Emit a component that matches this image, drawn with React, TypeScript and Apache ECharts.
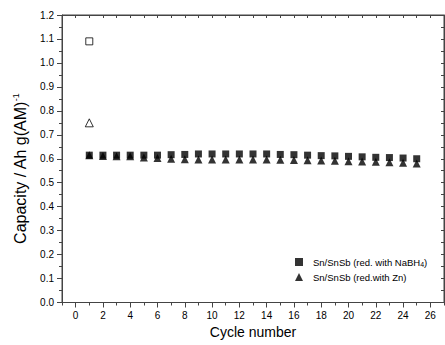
import React, { useEffect, useRef } from "react";
import * as echarts from "echarts";

const cycles = [1, 2, 3, 4, 5, 6, 7, 8, 9, 10, 11, 12, 13, 14, 15, 16, 17, 18, 19, 20, 21, 22, 23, 24, 25];
const nabh4 = [0.615, 0.615, 0.615, 0.615, 0.615, 0.615, 0.617, 0.618, 0.62, 0.62, 0.62, 0.62, 0.62, 0.62, 0.618, 0.617, 0.615, 0.613, 0.612, 0.61, 0.608, 0.606, 0.605, 0.603, 0.6];
const zn = [0.615, 0.612, 0.61, 0.61, 0.605, 0.603, 0.6, 0.598, 0.597, 0.597, 0.597, 0.597, 0.597, 0.597, 0.596, 0.595, 0.594, 0.593, 0.592, 0.59, 0.589, 0.587, 0.585, 0.583, 0.58];
const firstCycle = [1];
const nabh4First = [1.09];
const znFirst = [0.75];
const xMajorTicks = [0, 2, 4, 6, 8, 10, 12, 14, 16, 18, 20, 22, 24, 26];

const NAME_A = "Sn/SnSb (red. with NaBH4)";
const NAME_B = "Sn/SnSb (red.with Zn)";

const FONT = "Liberation Sans, Arial, sans-serif";
const AXIS_COLOR = "#444";

export default function App() {
  const ref = useRef<HTMLDivElement>(null);
  useEffect(() => {
    document.body.style.margin = "0";
    const chart = echarts.init(ref.current!, null, { renderer: "svg" });
    const xBase = { type: "value", min: -1, max: 27, interval: 1, gridIndex: 0 };
    const line = { show: true, onZero: false, lineStyle: { color: AXIS_COLOR, width: 1 } };
    chart.setOption({
      animation: false,
      textStyle: { fontFamily: FONT },
      grid: {
        left: 62, top: 15, right: 1, bottom: 42.5, containLabel: false,
        show: true, borderColor: AXIS_COLOR, borderWidth: 1, backgroundColor: "transparent",
      },
      xAxis: [
        {
          ...xBase,
          position: "bottom",
          name: "Cycle number",
          nameLocation: "middle",
          nameGap: 15,
          nameTextStyle: { fontSize: 14, color: "#000", fontFamily: FONT },
          axisLine: line,
          axisTick: { show: true, length: 5, customValues: xMajorTicks, lineStyle: { color: AXIS_COLOR, width: 1 } },
          axisLabel: { show: true, customValues: xMajorTicks, fontSize: 10, color: "#000", margin: 8, fontFamily: FONT },
          splitLine: { show: false },
        },
        {
          ...xBase,
          position: "bottom",
          axisLine: { show: false },
          axisTick: { show: true, length: 3, lineStyle: { color: AXIS_COLOR, width: 1 } },
          axisLabel: { show: false },
          splitLine: { show: false },
        },
        {
          ...xBase,
          position: "top",
          axisLine: line,
          axisTick: { show: true, inside: true, length: 3, lineStyle: { color: AXIS_COLOR, width: 1 } },
          axisLabel: { show: false },
          splitLine: { show: false },
        },
      ],
      yAxis: [
        {
          type: "value",
          min: 0,
          max: 1.2,
          interval: 0.1,
          position: "left",
          name: "Capacity / Ah g(AM){sup|-1}",
          nameLocation: "middle",
          nameGap: 33,
          nameTextStyle: {
            fontSize: 16,
            color: "#000",
            fontFamily: FONT,
            padding: [0, 20, 0, 0],
            rich: { sup: { fontSize: 9, color: "#000", fontFamily: FONT, verticalAlign: "top", padding: [0, 0, 9, 0] } },
          },
          axisLine: line,
          axisTick: { show: true, length: 5, lineStyle: { color: AXIS_COLOR, width: 1 } },
          minorTick: { show: true, splitNumber: 2, length: 3, lineStyle: { color: AXIS_COLOR, width: 1 } },
          axisLabel: { fontSize: 10, color: "#000", margin: 8, fontFamily: FONT, formatter: (v: number) => v.toFixed(1) },
          splitLine: { show: false },
          minorSplitLine: { show: false },
        },
        {
          type: "value",
          min: 0,
          max: 1.2,
          interval: 0.05,
          position: "right",
          axisLine: line,
          axisTick: { show: true, inside: true, length: 3, lineStyle: { color: AXIS_COLOR, width: 1 } },
          axisLabel: { show: false },
          splitLine: { show: false },
        },
      ],
      legend: {
        orient: "vertical",
        left: 295,
        top: 256,
        padding: 0,
        itemWidth: 8,
        itemHeight: 8,
        itemGap: 4,
        data: [NAME_A, NAME_B],
        textStyle: {
          fontSize: 9.5,
          lineHeight: 10,
          color: "#000",
          fontFamily: FONT,
          padding: [0, 0, 0, 5],
          rich: { sub: { fontSize: 7, lineHeight: 5, padding: [5, 0, 0, 0], color: "#000", fontFamily: FONT } },
        },
        formatter: (name: string) => (name === NAME_A ? "Sn/SnSb (red. with NaBH{sub|4})" : name),
      },
      series: [
        {
          name: NAME_A,
          type: "scatter",
          xAxisIndex: 0,
          yAxisIndex: 0,
          symbol: "rect",
          symbolSize: 7,
          itemStyle: { color: "#000" },
          data: cycles.map((c, i) => [c, nabh4[i]]),
        },
        {
          name: NAME_B,
          type: "scatter",
          xAxisIndex: 0,
          yAxisIndex: 0,
          symbol: "triangle",
          symbolSize: 8,
          itemStyle: { color: "#000" },
          data: cycles.map((c, i) => [c, zn[i]]),
        },
        {
          name: "NaBH4 first",
          type: "scatter",
          xAxisIndex: 0,
          yAxisIndex: 0,
          symbol: "rect",
          symbolSize: 7,
          itemStyle: { color: "#fff", borderColor: "#000", borderWidth: 1 },
          data: firstCycle.map((c, i) => [c, nabh4First[i]]),
        },
        {
          name: "Zn first",
          type: "scatter",
          xAxisIndex: 0,
          yAxisIndex: 0,
          symbol: "triangle",
          symbolSize: 8,
          itemStyle: { color: "#fff", borderColor: "#000", borderWidth: 1 },
          data: firstCycle.map((c, i) => [c, znFirst[i]]),
        },
      ],
    });
    return () => chart.dispose();
  }, []);
  return <div ref={ref} style={{ width: 445, height: 345 }} />;
}
